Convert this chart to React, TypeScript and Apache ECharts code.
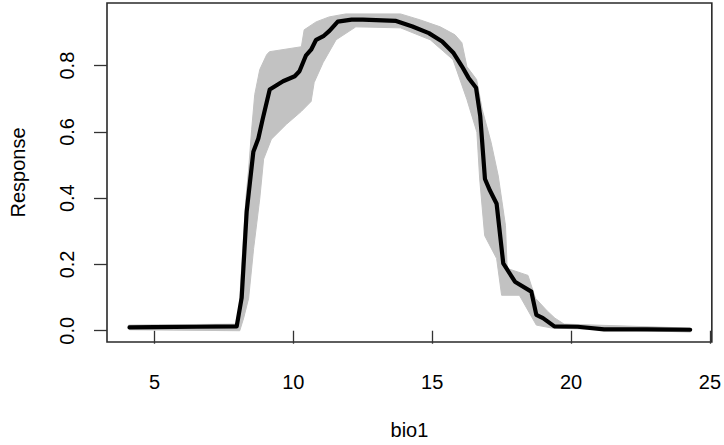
import React, { useEffect, useRef } from "react";
import * as echarts from "echarts";

// Mean response curve (black)
const meanX = [4.1, 5.0, 6.5, 7.96, 8.14, 8.32, 8.56, 8.74, 8.9, 9.15, 9.63, 10.05, 10.22, 10.45, 10.64, 10.82, 11.1, 11.3, 11.6, 12.1, 12.5, 13.7, 14.29, 14.88, 15.36, 15.77, 16.07, 16.31, 16.58, 16.73, 16.9, 17.08, 17.32, 17.56, 17.98, 18.57, 18.75, 18.99, 19.4, 20.24, 21.19, 22.74, 24.29];
const meanY = [0.01, 0.011, 0.012, 0.013, 0.1, 0.36, 0.54, 0.58, 0.64, 0.728, 0.753, 0.768, 0.783, 0.83, 0.848, 0.878, 0.89, 0.905, 0.933, 0.939, 0.939, 0.935, 0.918, 0.898, 0.873, 0.838, 0.798, 0.763, 0.733, 0.648, 0.458, 0.423, 0.383, 0.203, 0.148, 0.118, 0.048, 0.038, 0.013, 0.012, 0.004, 0.004, 0.003];

// Replicate envelope (grey band): upper/outer side
const upperX = [4.07, 8.0, 8.07, 8.18, 8.29, 8.39, 8.5, 8.61, 8.79, 9.04, 9.14, 10.29, 10.39, 10.82, 11.29, 11.89, 13.86, 14.57, 15.29, 15.82, 16.07, 16.25, 16.6, 16.8, 17.12, 17.38, 17.64, 17.7, 18.45, 18.72, 19.15, 19.42, 19.75, 24.3];
const upperY = [0.017, 0.02, 0.098, 0.248, 0.398, 0.488, 0.608, 0.713, 0.788, 0.833, 0.842, 0.857, 0.908, 0.932, 0.947, 0.956, 0.956, 0.938, 0.917, 0.893, 0.869, 0.797, 0.758, 0.668, 0.569, 0.467, 0.317, 0.188, 0.167, 0.098, 0.059, 0.038, 0.02, 0.008];
// lower/inner side
const lowerX = [4.1, 8.07, 8.21, 8.39, 8.57, 8.79, 8.93, 9.21, 9.75, 10.29, 10.64, 10.75, 11.07, 11.54, 12.25, 13.86, 14.93, 15.75, 16.25, 16.61, 16.71, 16.89, 17.32, 17.5, 18.14, 18.75, 19.32, 24.3];
const lowerY = [0.003, 0.0, 0.038, 0.098, 0.248, 0.398, 0.518, 0.578, 0.623, 0.662, 0.692, 0.749, 0.809, 0.878, 0.917, 0.914, 0.878, 0.818, 0.698, 0.599, 0.458, 0.287, 0.218, 0.107, 0.107, 0.017, 0.008, -0.004];

const xTicks = [5, 10, 15, 20, 25];
const yTicks = [0, 0.2, 0.4, 0.6, 0.8];

const FONT = "'Liberation Sans', Arial, Helvetica, sans-serif";

export default function App() {
  const ref = useRef<HTMLDivElement>(null);
  useEffect(() => {
    document.body.style.margin = "0";
    if (!ref.current) return;
    const chart = echarts.init(ref.current, null, { renderer: "svg" });
    const band: number[][] = [];
    upperX.forEach((x, i) => band.push([x, upperY[i]]));
    for (let i = lowerX.length - 1; i >= 0; i--) band.push([lowerX[i], lowerY[i]]);

    chart.setOption({
      animation: false,
      backgroundColor: "#ffffff",
      grid: {
        left: 104,
        right: 10,
        top: 3,
        bottom: 101,
        show: true,
        borderColor: "#2a2a2a",
        borderWidth: 1.6,
        backgroundColor: "transparent",
      },
      xAxis: {
        type: "value",
        min: 3.29,
        max: 25.07,
        name: "bio1",
        nameLocation: "middle",
        nameGap: 78,
        nameTextStyle: { fontSize: 20, color: "#000", fontFamily: FONT },
        axisLine: { show: false },
        axisTick: { show: true, length: 13, customValues: xTicks, lineStyle: { color: "#333", width: 1.3 } },
        axisLabel: { customValues: xTicks, fontSize: 20, color: "#000", fontFamily: FONT, margin: 30 },
        splitLine: { show: false },
      },
      yAxis: {
        type: "value",
        min: -0.034,
        max: 0.989,
        name: "Response",
        nameLocation: "middle",
        nameRotate: 90,
        nameGap: 79,
        nameTextStyle: { fontSize: 20, color: "#000", fontFamily: FONT },
        axisLine: { show: false },
        axisTick: { show: true, length: 13, customValues: yTicks, lineStyle: { color: "#333", width: 1.3 } },
        axisLabel: {
          customValues: yTicks,
          rotate: 90,
          fontSize: 20,
          color: "#000",
          fontFamily: FONT,
          margin: 30,
          formatter: (v: number) => v.toFixed(1),
        },
        splitLine: { show: false },
      },
      series: [
        {
          type: "custom",
          name: "replicates",
          silent: true,
          clip: true,
          data: [[upperX[0], upperY[0]]],
          renderItem: (_params: any, api: any) => {
            const pts = band.map((p) => api.coord(p));
            return {
              type: "polygon",
              shape: { points: pts },
              style: { fill: "#c2c2c2", stroke: "#c2c2c2", lineWidth: 1 },
            };
          },
          z: 1,
        },
        {
          type: "line",
          name: "mean",
          data: meanX.map((x, i) => [x, meanY[i]]),
          showSymbol: false,
          symbol: "none",
          lineStyle: { color: "#000", width: 4.2, join: "round", cap: "round" },
          z: 3,
        },
      ],
    });
    return () => chart.dispose();
  }, []);
  return <div ref={ref} style={{ position: "absolute", left: 0, top: 0, width: 724, height: 445 }} />;
}
